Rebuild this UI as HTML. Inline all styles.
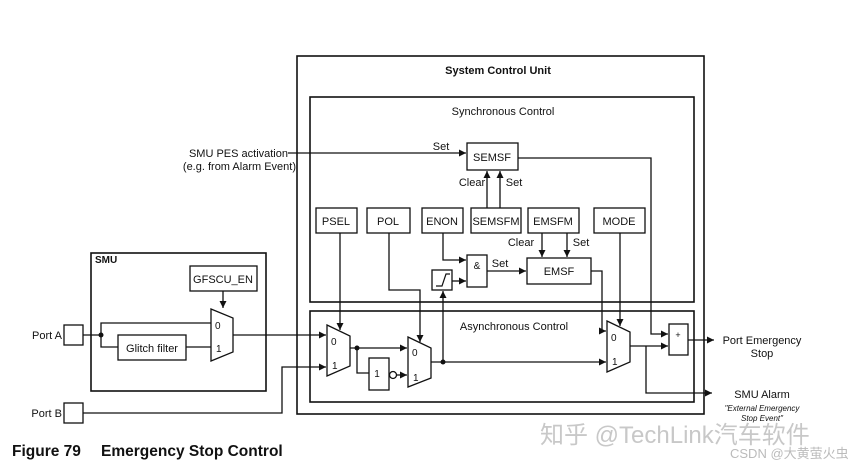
<!DOCTYPE html>
<html><head><meta charset="utf-8"><style>
body{margin:0;background:#fff;}
svg text{font-family:"Liberation Sans",Arial,sans-serif;fill:#111;}
</style></head><body>
<svg width="858" height="467" viewBox="0 0 858 467" xmlns="http://www.w3.org/2000/svg">
<defs><marker id="a" markerWidth="8" markerHeight="8" refX="7" refY="4" orient="auto" markerUnits="userSpaceOnUse"><path d="M0,0.5 L7,4 L0,7.5z" fill="#111"/></marker></defs>
<g fill="none" stroke="#111" stroke-width="1.3">
<rect x="297" y="56" width="407" height="358" stroke-width="1.6"/>
<rect x="310" y="97" width="384" height="205" stroke-width="1.6"/>
<rect x="310" y="311" width="384" height="91" stroke-width="1.6"/>
<rect x="91" y="253" width="175" height="138" stroke-width="1.6"/>
<rect x="190" y="266" width="67" height="25"/>
<path d="M211,309 L233,318 L233,352 L211,361Z"/>
<rect x="64" y="325" width="19" height="20"/>
<rect x="64" y="403" width="19" height="20"/>
<rect x="118" y="335" width="68" height="25"/>
<path d="M83,335 H101 V323 H211 M101,335 V347 H118 M186,347 H211"/>
<path d="M223,291 V308" marker-end="url(#a)"/>
<path d="M233,335 H326" marker-end="url(#a)"/>
<path d="M83,413 H282 V367 H326" marker-end="url(#a)"/>
<path d="M327,325 L350,336 L350,366 L327,376Z"/>
<path d="M408,337 L431,348 L431,378 L408,387Z"/>
<path d="M607,321 L630,332 L630,362 L607,372Z"/>
<rect x="369" y="358" width="20" height="32"/>
<circle cx="393" cy="375" r="3.5"/>
<path d="M397,375 H407" marker-end="url(#a)"/>
<path d="M350,348 H407" marker-end="url(#a)"/>
<path d="M357,348 V373 H369"/>
<path d="M340,233 V330" marker-end="url(#a)"/>
<path d="M389,233 V290 H420 V342" marker-end="url(#a)"/>
<path d="M431,362 H606" marker-end="url(#a)"/>
<path d="M443,362 V291" marker-end="url(#a)"/>
<rect x="432" y="270" width="20" height="20"/>
<path d="M436,286 L442,286 L446,274 L450,274" stroke-width="1.2"/>
<path d="M452,281 H466" marker-end="url(#a)"/>
<rect x="467" y="255" width="20" height="32"/>
<path d="M443,233 V260 H466" marker-end="url(#a)"/>
<path d="M487,271 H526" marker-end="url(#a)"/>
<rect x="527" y="258" width="64" height="26"/>
<path d="M591,271 H602 V331 H606" marker-end="url(#a)"/>
<path d="M620,233 V326" marker-end="url(#a)"/>
<rect x="316" y="208" width="41" height="25"/>
<rect x="367" y="208" width="43" height="25"/>
<rect x="422" y="208" width="41" height="25"/>
<rect x="471" y="208" width="50" height="25"/>
<rect x="528" y="208" width="51" height="25"/>
<rect x="594" y="208" width="51" height="25"/>
<rect x="467" y="143" width="51" height="27"/>
<path d="M288,153 H466" marker-end="url(#a)"/>
<path d="M487,208 V171" marker-end="url(#a)"/>
<path d="M500,208 V171" marker-end="url(#a)"/>
<path d="M542,233 V257" marker-end="url(#a)"/>
<path d="M567,233 V257" marker-end="url(#a)"/>
<path d="M518,158 H651 V334 H668" marker-end="url(#a)"/>
<rect x="669" y="324" width="19" height="31"/>
<path d="M630,346 H668" marker-end="url(#a)"/>
<path d="M646,346 V393 H712" marker-end="url(#a)"/>
<path d="M688,340 H714" marker-end="url(#a)"/>
</g>
<circle cx="101" cy="335" r="2.5" fill="#111"/>
<circle cx="357" cy="348" r="2.5" fill="#111"/>
<circle cx="443" cy="362" r="2.5" fill="#111"/>
<g font-size="11">
<text x="498" y="74" text-anchor="middle" font-weight="bold">System Control Unit</text>
<text x="503" y="115" text-anchor="middle">Synchronous Control</text>
<text x="514" y="330" text-anchor="middle">Asynchronous Control</text>
<text x="95" y="263" font-weight="bold" font-size="10">SMU</text>
<text x="223" y="283" text-anchor="middle">GFSCU_EN</text>
<text x="152" y="352" text-anchor="middle">Glitch filter</text>
<text x="215" y="329" font-size="10">0</text><text x="216" y="352" font-size="10">1</text>
<text x="331" y="345" font-size="10">0</text><text x="332" y="369" font-size="10">1</text>
<text x="412" y="356" font-size="10">0</text><text x="413" y="381" font-size="10">1</text>
<text x="611" y="341" font-size="10">0</text><text x="612" y="365" font-size="10">1</text>
<text x="377" y="377" text-anchor="middle" font-size="10">1</text>
<text x="62" y="339" text-anchor="end">Port A</text>
<text x="62" y="417" text-anchor="end">Port B</text>
<text x="336" y="225" text-anchor="middle">PSEL</text>
<text x="388" y="225" text-anchor="middle">POL</text>
<text x="442" y="225" text-anchor="middle">ENON</text>
<text x="496" y="225" text-anchor="middle">SEMSFM</text>
<text x="553" y="225" text-anchor="middle">EMSFM</text>
<text x="619" y="225" text-anchor="middle">MODE</text>
<text x="492" y="161" text-anchor="middle">SEMSF</text>
<text x="559" y="275" text-anchor="middle">EMSF</text>
<text x="477" y="269" text-anchor="middle" font-size="10">&amp;</text>
<text x="678" y="338" text-anchor="middle" font-size="9">+</text>
<text x="441" y="150" text-anchor="middle">Set</text>
<text x="472" y="186" text-anchor="middle">Clear</text>
<text x="514" y="186" text-anchor="middle">Set</text>
<text x="521" y="246" text-anchor="middle">Clear</text>
<text x="581" y="246" text-anchor="middle">Set</text>
<text x="500" y="267" text-anchor="middle">Set</text>
<text x="288" y="157" text-anchor="end">SMU PES activation</text>
<text x="296" y="170" text-anchor="end">(e.g. from Alarm Event)</text>
<text x="762" y="344" text-anchor="middle">Port Emergency</text>
<text x="762" y="357" text-anchor="middle">Stop</text>
<text x="762" y="398" text-anchor="middle">SMU Alarm</text>
<text x="762" y="411" text-anchor="middle" font-size="8" font-style="italic">"External Emergency</text>
<text x="762" y="421" text-anchor="middle" font-size="8" font-style="italic">Stop Event"</text>
</g>
<text x="12" y="456" font-size="15.5" font-weight="bold">Figure 79</text>
<text x="101" y="456" font-size="15.5" font-weight="bold">Emergency Stop Control</text>
<text x="540" y="443" font-size="24" style="fill:#c8c8c8;font-family:'Liberation Sans','Noto Sans CJK SC',sans-serif">知乎 @TechLink汽车软件</text>
<text x="730" y="458" font-size="13" style="fill:#bbb;font-family:'Liberation Sans','Noto Sans CJK SC',sans-serif">CSDN @大黄萤火虫</text>
</svg>
</body></html>
